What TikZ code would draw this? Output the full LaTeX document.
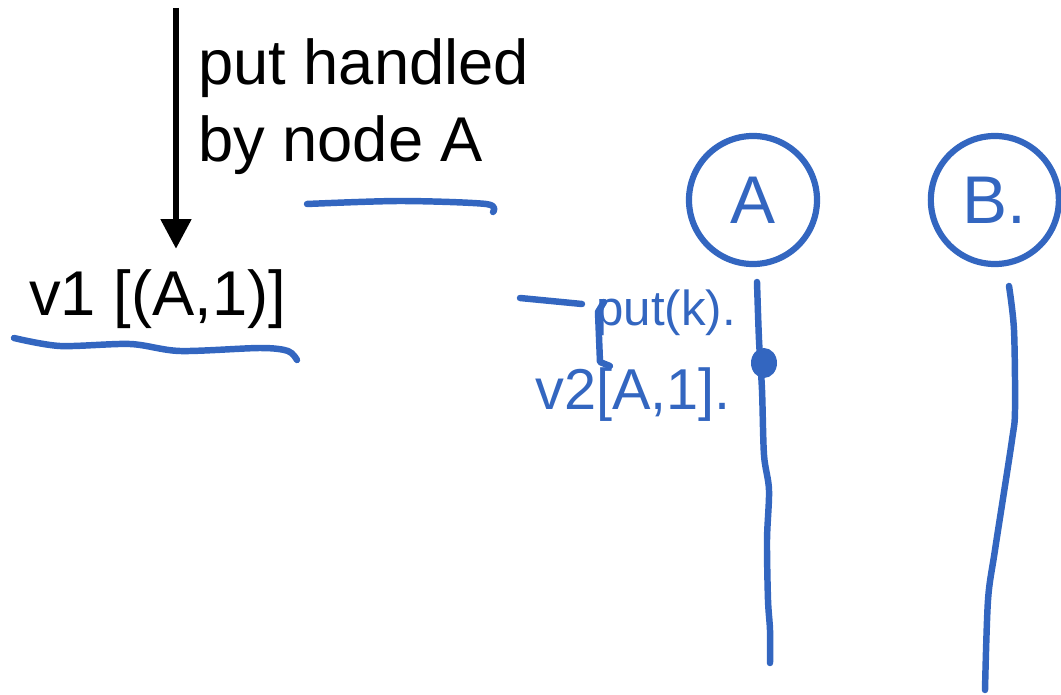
\documentclass[tikz,border=0pt]{standalone}
\usepackage{fontspec}
\setmainfont{Liberation Sans}
\usetikzlibrary{arrows.meta,positioning}
\definecolor{penblue}{HTML}{3366C0}
\tikzset{
  lbl/.style={font=\fontsize{45}{55}\selectfont,inner sep=0pt,align=left},
  ink/.style={draw=penblue,line width=4.6pt,line cap=round,line join=round},
  proc/.style={circle,draw=penblue,line width=4.4pt,minimum size=3.2cm,
               inner sep=0pt,text=penblue,font=\fontsize{48}{56}\selectfont},
  note/.style={text=penblue,inner sep=0pt,font=\fontsize{35}{42}\selectfont},
  evt/.style={ellipse,fill=penblue,inner sep=0pt,minimum width=0.65cm,
              minimum height=0.75cm},
  arr/.style={-{Triangle[width=21pt,length=21pt]},line width=4.2pt},
}
\usetikzlibrary{shapes.geometric}
\begin{document}
\begin{tikzpicture}[x=0.025cm,y=-0.025cm]
  \useasboundingbox (0,0) rectangle (1061,695);

  \coordinate (top) at (176,8);
  \node[lbl,anchor=base west] (v1) at (29,316) {v1 [(A,1)]};
  \node[lbl,anchor=north west] (msg) at (198,38) {put handled\\by node A};
  \draw[arr,shorten >=15pt] (top) -- (top |- v1.north);

  \draw[ink] plot[smooth] coordinates {(14,338) (60,346) (130,344) (180,351)
    (260,348) (288,351) (297,360)};
  \draw[ink] plot[smooth] coordinates {(307,204) (400,201) (486,204) (493,212)};

  \node[proc] (A) at (753,200) {A};
  \node[proc, right=2.69cm of A] (B) {B.};

  \node[evt] (ev) at (764,363) {};
  \draw[ink] plot[smooth] coordinates {(757,282) (759,340) (762,390) (764,455)
    (769,490) (767,540) (768,600) (770,630) (770,663)};
  \draw[ink] plot[smooth] coordinates {(1009,286) (1014,330) (1015,410)
    (1012,440) (995,550) (988,600) (985,690)};

  \node[note,anchor=base west] (putk) at (596,326) {put(k).};
  \node[note,anchor=base west,font=\fontsize{41}{48}\selectfont] (v2) at (535,410) {v2[A,1].};
  \draw[ink] (520,298) -- (582,304);
  \draw[ink] (604,302) -- (598,312) -- (600,362) -- (610,366);
\end{tikzpicture}
\end{document}
